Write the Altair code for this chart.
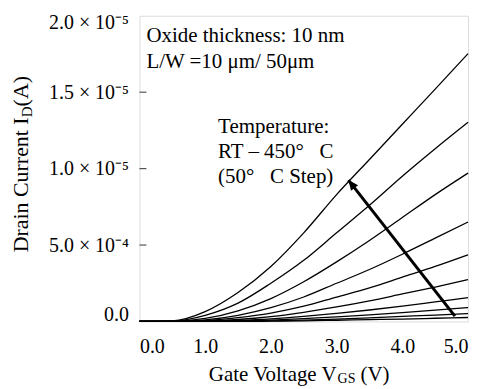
import altair as alt
import pandas as pd

# Gate voltage grid (V)
voltage = [0.0, 0.5, 1.0, 1.5, 2.0, 2.5, 3.0, 3.5, 4.0, 4.5, 5.0]

# Drain current, in units of 1e-5 A, one list per temperature
i_rt  = [0, 0.000, 0.000, 0.000, 0.002, 0.004, 0.008, 0.012, 0.016, 0.021, 0.026]
i_50  = [0, 0.000, 0.000, 0.001, 0.004, 0.009, 0.016, 0.024, 0.033, 0.042, 0.052]
i_100 = [0, 0.000, 0.000, 0.003, 0.009, 0.018, 0.030, 0.043, 0.058, 0.074, 0.091]
i_150 = [0, 0.000, 0.001, 0.007, 0.017, 0.033, 0.053, 0.075, 0.100, 0.128, 0.156]
i_200 = [0, 0.000, 0.003, 0.013, 0.032, 0.060, 0.095, 0.135, 0.180, 0.225, 0.274]
i_250 = [0, 0.000, 0.006, 0.025, 0.055, 0.100, 0.160, 0.220, 0.290, 0.360, 0.436]
i_300 = [0, 0.000, 0.010, 0.040, 0.090, 0.160, 0.250, 0.340, 0.440, 0.545, 0.651]
i_350 = [0, 0.001, 0.020, 0.070, 0.150, 0.260, 0.390, 0.530, 0.680, 0.830, 0.971]
i_400 = [0, 0.002, 0.040, 0.120, 0.250, 0.400, 0.580, 0.760, 0.950, 1.130, 1.303]
i_450 = [0, 0.004, 0.065, 0.190, 0.360, 0.580, 0.830, 1.060, 1.290, 1.520, 1.752]

temps = ["RT", "50", "100", "150", "200", "250", "300", "350", "400", "450"]
series = [i_rt, i_50, i_100, i_150, i_200, i_250, i_300, i_350, i_400, i_450]

# Axis ticks
y_tick_values = [0.0, 0.5, 1.0, 1.5, 2.0]
y_tick_labels = ["0.0", "5.0 × 10⁻⁴", "1.0 × 10⁻⁵", "1.5 × 10⁻⁵", "2.0 × 10⁻⁵"]
x_tick_values = [0, 1, 2, 3, 4, 5]

# Arrow (tail -> head), data coordinates
arrow_v = [4.80, 3.18]
arrow_i = [0.035, 0.925]

rows = []
for t, vals in zip(temps, series):
    for v, i in zip(voltage, vals):
        rows.append({"temp": t, "v": v, "i": i})
df = pd.DataFrame(rows)

FONT = "Liberation Serif"

label_expr = " : ".join(
    f"datum.value == {v} ? '{l}'" for v, l in zip(y_tick_values, y_tick_labels)
) + " : ''"

xs = alt.Scale(domain=[0, 5], nice=False, zero=False)
ys = alt.Scale(domain=[0, 2], nice=False, zero=False)

lines = alt.Chart(df).mark_line(color="black", strokeWidth=1.3, interpolate="monotone").encode(
    x=alt.X("v:Q", scale=xs,
            axis=alt.Axis(values=x_tick_values, format=".1f", ticks=False, domain=False, grid=False,
                          labelFont=FONT, labelFontSize=20, labelColor="black", labelPadding=15,
                          title=None)),
    y=alt.Y("i:Q", scale=ys,
            axis=alt.Axis(values=y_tick_values, labelExpr=label_expr, ticks=False, domain=False,
                          grid=False, labelFont=FONT, labelFontSize=20, labelColor="black",
                          labelPadding=11, labelFlush=True, labelFlushOffset=3, title=None)),
    detail="temp:N",
)

tick_df = pd.DataFrame({"i": y_tick_values[1:-1]})
inner_ticks = alt.Chart(tick_df).mark_rule(color="#555", strokeWidth=1.2).encode(
    x=alt.value(0), x2=alt.value(7), y=alt.Y("i:Q", scale=ys)
)

arrow_df = pd.DataFrame({"v": arrow_v, "i": arrow_i})
arrow_line = alt.Chart(arrow_df).mark_line(color="black", strokeWidth=3).encode(
    x=alt.X("v:Q", scale=xs), y=alt.Y("i:Q", scale=ys)
)
head_df = pd.DataFrame({"v": arrow_v[1:], "i": arrow_i[1:]})
arrow_head = alt.Chart(head_df).mark_point(
    shape="M0,0 L0.45,1 L-0.45,1 Z", size=400, angle=322, filled=True,
    color="black", opacity=1, strokeWidth=0
).encode(x=alt.X("v:Q", scale=xs), y=alt.Y("i:Q", scale=ys))


def txt(s, x, y, size=21, align="left", angle=0, baseline="alphabetic"):
    return alt.Chart(pd.DataFrame({"t": [s]})).mark_text(
        font=FONT, fontSize=size, align=align, baseline=baseline, angle=angle, color="black"
    ).encode(x=alt.value(x), y=alt.value(y), text="t:N")


annotations = [
    txt("Oxide thickness: 10 nm", 7, 26),
    txt("L/W =10 μm/ 50μm", 7, 52),
    txt("Temperature:", 79, 118),
    txt("RT – 450°\u00a0\u00a0\u00a0C", 79, 143),
    txt("(50°\u00a0\u00a0\u00a0C Step)", 79, 168),
    # x title
    txt("Gate Voltage V", 198, 367, align="right"),
    txt("GS", 199, 369, size=14),
    txt("(V)", 222, 367),
    # y title
    txt("Drain Current I", -112, 102, size=22, align="right", angle=270),
    txt("D", -108, 102, size=15, angle=270),
    txt("(A)", -112, 91, size=22, angle=270),
]

chart = alt.layer(lines, inner_ticks, arrow_line, arrow_head, *annotations).properties(
    width=330, height=307,
    autosize=alt.AutoSizeParams(type="none"),
    padding={"left": 132, "top": 7, "right": 8, "bottom": 64},
).configure_view(stroke="#555", strokeWidth=1.5).configure(background="white")

chart.save("out.html", embed_options={"renderer": "svg", "actions": False})
